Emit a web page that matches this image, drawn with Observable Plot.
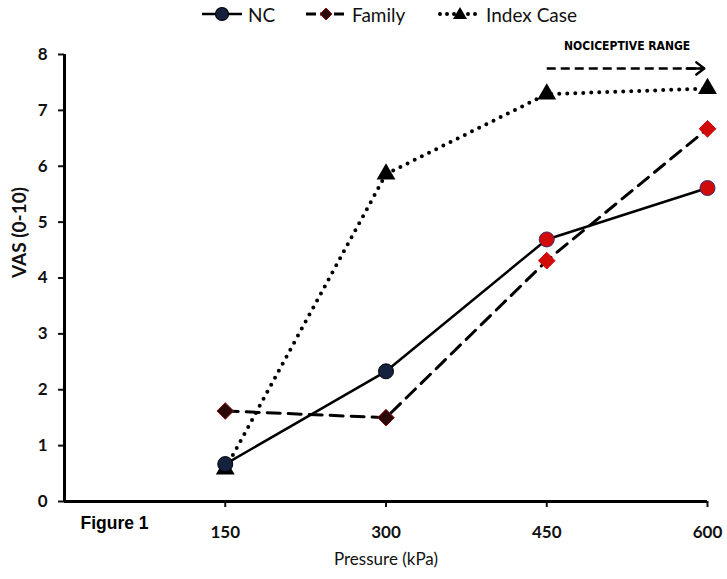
<!DOCTYPE html>
<html>
<head>
<meta charset="utf-8">
<script src="https://cdn.jsdelivr.net/npm/d3@7"></script>
<script src="https://cdn.jsdelivr.net/npm/@observablehq/plot@0.6"></script>
<style>
  body { margin: 0; background: #fff; }
  #wrap { width: 727px; position: relative; }
  #legend { position: relative; height: 30px; width: 727px; font-family: Lato, "Open Sans", sans-serif; font-size: 19px; color: #111; }
  #legend .item { position: absolute; top: 0; height: 28px; display: flex; align-items: center; }
  #legend svg { margin-right: 4px; }
</style>
</head>
<body>
<div id="wrap">
  <div id="legend"></div>
  <div id="chart"></div>
</div>
<script>
// ---- data ----
const pressures = [150, 300, 450, 600];
const ncValues = [0.67, 2.33, 4.69, 5.61];
const familyValues = [1.62, 1.50, 4.31, 6.67];
const indexValues = [0.58, 5.86, 7.29, 7.39];
const seriesNames = ["NC", "Family", "Index Case"];
const yTicks = [0, 1, 2, 3, 4, 5, 6, 7, 8];
const annotationRange = [450, 600];
const annotationLevel = [7.75];
const annotationText = ["NOCICEPTIVE RANGE"];
const xTitle = ["Pressure (kPa)"];
const yTitle = ["VAS (0-10)"];
const figureLabel = ["Figure 1"];

const toRows = (vals) => pressures.map((p, i) => ({x: p, y: vals[i]}));
const nc = toRows(ncValues);
const family = toRows(familyValues);
const indexCase = toRows(indexValues);

const RED = "#d10a0a";
const NAVY = "#14213f";
const DARK = "#2a0808";
const nociceptive = (d) => d.x >= 450;

// ---- legend ----
const legendItems = [
  {name: seriesNames[0], left: 200, dash: null, width: 2.5, sym: "circle"},
  {name: seriesNames[1], left: 304, dash: "10,4", width: 3, sym: "diamond"},
  {name: seriesNames[2], left: 438, dash: "0,7", width: 4, sym: "triangle"}
];
const legend = document.getElementById("legend");
for (const it of legendItems) {
  const div = document.createElement("div");
  div.className = "item";
  div.style.left = it.left + "px";
  let symbol = "";
  if (it.sym === "circle") symbol = `<circle cx="22" cy="14" r="6.5" fill="${NAVY}" stroke="#000" stroke-width="1.2"/>`;
  if (it.sym === "diamond") symbol = `<path d="M22,8 L28,14 L22,20 L16,14 Z" fill="${DARK}" stroke="#8b1010" stroke-width="1"/>`;
  if (it.sym === "triangle") symbol = `<path d="M22,7 L29,19 L15,19 Z" fill="#000"/>`;
  div.innerHTML = `<svg width="44" height="28"><line x1="2" x2="42" y1="14" y2="14" stroke="#000" stroke-width="${it.width}" ${it.dash ? `stroke-dasharray="${it.dash}" stroke-linecap="${it.sym === "triangle" ? "round" : "butt"}"` : ""}/>${symbol}</svg><span>${it.name}</span>`;
  legend.appendChild(div);
}

// ---- chart ----
const chart = Plot.plot({
  width: 727,
  height: 549,
  marginLeft: 64,
  marginRight: 20,
  marginTop: 24,
  marginBottom: 78,
  style: {fontFamily: "Lato, 'Open Sans', sans-serif", background: "#fff", overflow: "visible"},
  x: {domain: [0, 600]},
  y: {domain: [0, 8]},
  marks: [
    Plot.axisY({ticks: yTicks, tickSize: 6, tickPadding: 11, fontSize: 17, fontWeight: "bold", strokeWidth: 2, label: null, color: "#111"}),
    Plot.axisX({ticks: pressures, tickSize: 6, tickPadding: 18, fontSize: 17, fontWeight: "bold", strokeWidth: 2, label: null, color: "#111"}),
    Plot.ruleY([0], {strokeWidth: 3, stroke: "#000"}),
    Plot.ruleX([0], {strokeWidth: 3, stroke: "#000"}),
    // lines
    Plot.line(indexCase, {x: "x", y: "y", stroke: "#000", strokeWidth: 4, strokeDasharray: "0,8", strokeLinecap: "round"}),
    Plot.line(family, {x: "x", y: "y", stroke: "#000", strokeWidth: 3, strokeDasharray: "13,8"}),
    Plot.line(nc, {x: "x", y: "y", stroke: "#000", strokeWidth: 2.5}),
    // markers
    Plot.dot(indexCase, {x: "x", y: "y", symbol: "triangle", r: 7, fill: "#000"}),
    Plot.dot(family, {x: "x", y: "y", symbol: "diamond2", r: 7.5, fill: d => nociceptive(d) ? RED : DARK, stroke: d => nociceptive(d) ? RED : "#8b1010", strokeWidth: 1}),
    Plot.dot(nc, {x: "x", y: "y", symbol: "circle", r: 7.5, fill: d => nociceptive(d) ? RED : NAVY, stroke: d => nociceptive(d) ? "#3a2a6a" : "#000", strokeWidth: 1}),
    // annotation
    Plot.link(annotationLevel, {x1: annotationRange[0], x2: annotationRange[1] - 4, y1: d => d, y2: d => d, stroke: "#000", strokeWidth: 2.5, strokeDasharray: "9,5"}),
    Plot.arrow(annotationLevel, {x1: annotationRange[0], x2: annotationRange[1] - 3, y1: d => d, y2: d => d, insetStart: 140, stroke: "#000", strokeWidth: 2.5, headLength: 6, headAngle: 75}),
    Plot.text(annotationText, {x: (annotationRange[0] + annotationRange[1]) / 2, y: 8.15, text: d => d, fontFamily: "'Liberation Sans Narrow', 'DejaVu Sans Condensed', sans-serif", fontWeight: "bold", fontSize: 12, fill: "#000"}),
    // titles
    Plot.text(xTitle, {frameAnchor: "bottom", dy: 63, text: d => d, fontSize: 17, fill: "#111"}),
    Plot.text(yTitle, {frameAnchor: "left", dx: -45, rotate: -90, text: d => d, fontSize: 19, fontWeight: "bold", fill: "#111"}),
    Plot.text(figureLabel, {frameAnchor: "bottom-left", dx: 16, dy: 27, textAnchor: "start", text: d => d, fontFamily: "'Liberation Sans', Arial, sans-serif", fontSize: 17.5, fontWeight: "bold", fill: "#000"})
  ]
});
document.getElementById("chart").appendChild(chart);
</script>
</body>
</html>
